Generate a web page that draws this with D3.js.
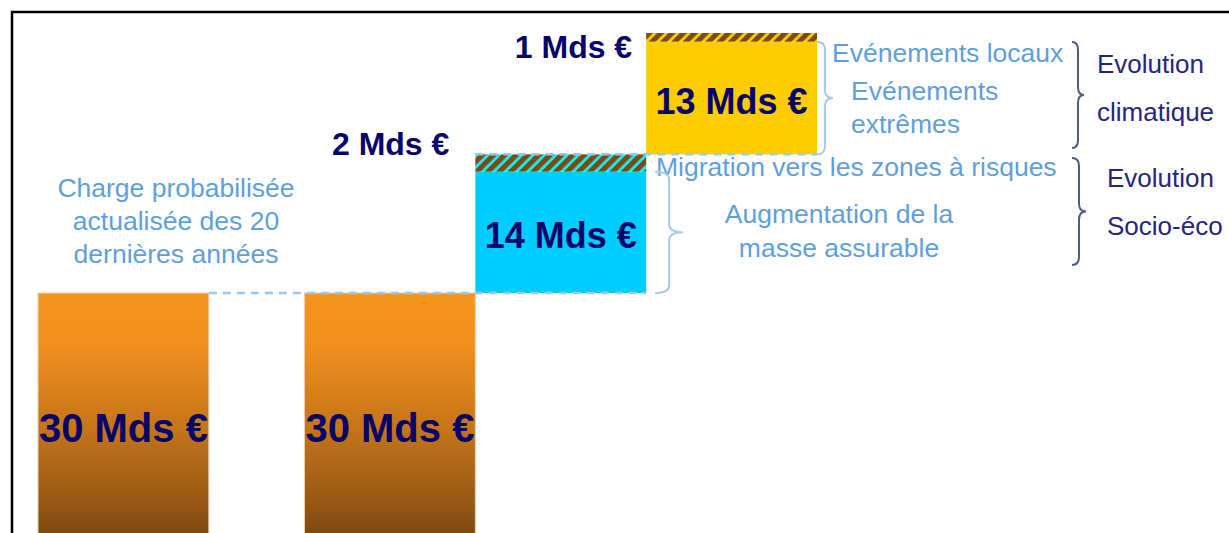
<!DOCTYPE html>
<html><head><meta charset="utf-8">
<script src="https://cdn.jsdelivr.net/npm/d3@7"></script>
<style>html,body{margin:0;padding:0;background:#fff;}svg{display:block;font-family:"Liberation Sans",Arial,sans-serif;}</style>
</head><body>
<script>
// ---- data ----
const steps = ["Charge historique", "Charge actualisée", "Evolution socio-économique", "Evolution climatique"];
const mainValues = [30, 30, 14, 13];
const extraValues = [0, 0, 2, 1];
const mainLabels = ["30 Mds €", "30 Mds €", "14 Mds €", "13 Mds €"];
const extraLabels = ["", "", "2 Mds €", "1 Mds €"];
const baseNote = ["Charge probabilisée", "actualisée des 20", "dernières années"];
const socioNotes = ["Migration vers les zones à risques", "Augmentation de la", "masse assurable"];
const climatNotes = ["Evénements locaux", "Evénements", "extrêmes"];
const groupClimat = ["Evolution", "climatique"];
const groupSocio = ["Evolution", "Socio-éco"];

// ---- layout ----
const W = 1229, H = 533;
const svg = d3.select("body").append("svg").attr("width", W).attr("height", H);
svg.append("rect").attr("width", W).attr("height", H).attr("fill", "#fff");
svg.append("rect").attr("x", 12).attr("y", 12).attr("width", 1400).attr("height", 700)
  .attr("fill", "none").attr("stroke", "#000").attr("stroke-width", 2.5);

// waterfall starts
const starts = mainValues.map(() => 0);
for (let i = 2; i < mainValues.length; i++) starts[i] = starts[i - 1] + mainValues[i - 1] + extraValues[i - 1];
const data = steps.map((s, i) => ({step: s, i, start: starts[i], main: mainValues[i], extra: extraValues[i],
  mainLabel: mainLabels[i], extraLabel: extraLabels[i]}));
const total = d3.max(data, d => d.start + d.main + d.extra);

const y = d3.scaleLinear().domain([0, total]).range([553, 33]);
const gap = 0.56;
const slot = i => i + (i >= 1 ? gap : 0);
const x = d3.scaleLinear().domain([0, mainValues.length + gap]).range([38, 817]);
const bw = x(1) - x(0);

const defs = svg.append("defs");
const grad = defs.append("linearGradient").attr("id", "orangeGrad")
  .attr("gradientUnits", "userSpaceOnUse").attr("x1", 0).attr("x2", 0).attr("y1", y(30)).attr("y2", y(0));
[[0, "#f7941d"], [0.18, "#f3911e"], [0.53, "#c47419"], [0.8, "#985914"], [1, "#6c410d"]]
  .forEach(([o, c]) => grad.append("stop").attr("offset", o).attr("stop-color", c));

function hatch(id, bg) {
  const p = defs.append("pattern").attr("id", id).attr("patternUnits", "userSpaceOnUse")
    .attr("width", 8).attr("height", 8).attr("patternTransform", "rotate(45)");
  p.append("rect").attr("width", 8).attr("height", 8).attr("fill", bg);
  p.append("rect").attr("width", 5.2).attr("height", 8).attr("fill", "#7b4c12");
}
hatch("hatchCyan", "#10f0ff");
hatch("hatchGold", "#ffcc00");

const mainFill = ["url(#orangeGrad)", "url(#orangeGrad)", "#00ccff", "#ffcc00"];
const extraFill = [null, null, "url(#hatchCyan)", "url(#hatchGold)"];

const g = svg.append("g");
g.selectAll("rect.main").data(data).join("rect").attr("class", "main")
  .attr("x", d => x(slot(d.i))).attr("width", bw)
  .attr("y", d => y(d.start + d.main)).attr("height", d => y(d.start) - y(d.start + d.main))
  .attr("fill", d => mainFill[d.i])
  .attr("stroke", d => d.i < 2 ? "#e9cfae" : "none").attr("stroke-width", 1);

g.selectAll("rect.extra").data(data.filter(d => d.extra > 0)).join("rect").attr("class", "extra")
  .attr("x", d => x(slot(d.i))).attr("width", bw)
  .attr("y", d => y(d.start + d.main + d.extra)).attr("height", d => y(d.start + d.main) - y(d.start + d.main + d.extra))
  .attr("fill", d => extraFill[d.i]);

// dashed connectors
const dash = svg.append("g").attr("stroke", "#9dc7ea").attr("stroke-width", 2.5).attr("stroke-dasharray", "8,6").attr("fill", "none");
dash.append("line").attr("x1", x(slot(0)) + bw).attr("x2", x(slot(2)) + bw)
  .attr("y1", y(data[2].start)).attr("y2", y(data[2].start));
dash.append("line").attr("x1", x(slot(2))).attr("x2", x(slot(3)) + bw)
  .attr("y1", y(data[3].start)).attr("y2", y(data[3].start));

// value labels inside bars
const inSize = [40, 40, 36, 36];
svg.selectAll("text.mainLabel").data(data).join("text").attr("class", "mainLabel")
  .attr("x", d => x(slot(d.i)) + bw / 2)
  .attr("y", d => {
    const top = y(d.start + d.main), bot = Math.min(y(d.start), H);
    return (top + bot) / 2 + inSize[d.i] * 0.36 + (d.i < 2 ? 15 : 3);
  })
  .attr("text-anchor", "middle").attr("font-weight", "bold").attr("font-size", d => inSize[d.i])
  .attr("fill", "#05056a").text(d => d.mainLabel);

// extra labels left of hatched bars
const extraDx = [0, 0, 26, 14], extraDy = [0, 0, 1, 25];
svg.selectAll("text.extraLabel").data(data.filter(d => d.extra > 0)).join("text").attr("class", "extraLabel")
  .attr("x", d => x(slot(d.i)) - extraDx[d.i])
  .attr("y", d => y(d.start + d.main + d.extra) + extraDy[d.i])
  .attr("text-anchor", "end").attr("font-weight", "bold").attr("font-size", 32)
  .attr("fill", "#05056a").text(d => d.extraLabel);

// notes
const light = "#5f9fdc";
function lines(arr, xx, y0, dy, anchor, color, size) {
  svg.append("g").selectAll("text").data(arr).join("text")
    .attr("x", xx).attr("y", (d, i) => y0 + i * dy).attr("text-anchor", anchor)
    .attr("font-size", size).attr("fill", color).text(d => d);
}
lines(baseNote, 176, 197, 33, "middle", light, 26.5);
lines([socioNotes[0]], 656, 176, 0, "start", light, 26.5);
lines(socioNotes.slice(1), 839, 223, 34, "middle", light, 26.5);
lines([climatNotes[0]], 832, 62, 0, "start", light, 26.5);
lines(climatNotes.slice(1), 851, 100, 33, "start", light, 26.5);
lines(groupClimat, 1097, 73, 48, "start", "#26267f", 26);
lines(groupSocio, 1107, 187, 48, "start", "#26267f", 26);

// braces
function brace(x0, x1, x2, y0, y1) {
  const ym = (y0 + y1) / 2, r = Math.min(8, (y1 - y0) / 4);
  const p = d3.path();
  p.moveTo(x0, y0);
  p.quadraticCurveTo(x1, y0, x1, y0 + r);
  p.lineTo(x1, ym - r);
  p.quadraticCurveTo(x1, ym, x2, ym);
  p.quadraticCurveTo(x1, ym, x1, ym + r);
  p.lineTo(x1, y1 - r);
  p.quadraticCurveTo(x1, y1, x0, y1);
  return p.toString();
}
const b3 = data[3], b2 = data[2];
svg.append("path").attr("d", brace(x(slot(3)) + bw, x(slot(3)) + bw + 8, x(slot(3)) + bw + 16, y(b3.start + b3.main), y(b3.start)))
  .attr("fill", "none").attr("stroke", "#a9cbe8").attr("stroke-width", 2);
svg.append("path").attr("d", brace(x(slot(2)) + bw + 9, x(slot(2)) + bw + 23, x(slot(2)) + bw + 37, y(b2.start + b2.main), y(b2.start)))
  .attr("fill", "none").attr("stroke", "#a9cbe8").attr("stroke-width", 2);
svg.append("path").attr("d", brace(1072, 1078, 1084, 42, 148))
  .attr("fill", "none").attr("stroke", "#4b5e80").attr("stroke-width", 2);
svg.append("path").attr("d", brace(1072, 1079, 1086, 158, 265))
  .attr("fill", "none").attr("stroke", "#4b5e80").attr("stroke-width", 2);
</script>
</body></html>
